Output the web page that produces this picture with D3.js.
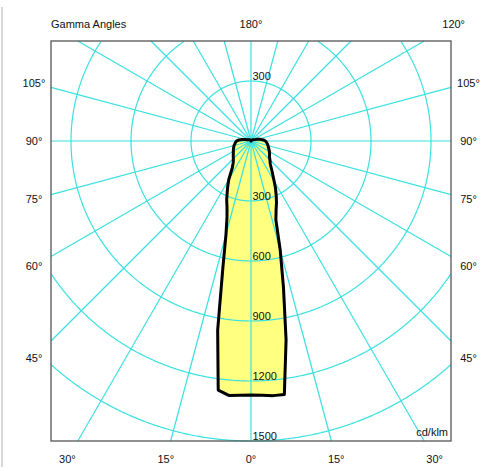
<!DOCTYPE html>
<html>
<head>
<meta charset="utf-8">
<script src="https://cdn.jsdelivr.net/npm/d3@7"></script>
<style>
  html, body { margin: 0; padding: 0; background: #fff; }
  #chart { position: relative; width: 492px; height: 471px; }
  #chart svg { position: absolute; left: 0; top: 0; }
  svg text { font-family: "Liberation Sans", Arial, sans-serif; font-size: 11px; fill: #111; }
</style>
</head>
<body>
<div id="chart"></div>
<script>
// ---- data (cd/klm) ----
const gammaAngles = [0,2.5,5,7.5,10,12.5,15,17.5,20,22.5,25,27.5,30,35,40,45,50,55,60,65,70,75,80,85,90,95,100,105,110,120,135,150,165,180];
const rightPlane = [1270,1272,1278,1278,1010,750,564,414,367,333,298,265,231,183,150,134,120,113,106,99,93,88,83,78,72,62,47,32,20,12,8,5,3,0];
const leftPlane  = [1270,1272,1277,1256,960,650,483,399,351,318,281,251,222,163,138,125,116,108,102,97,92,88,82,78,72,60,45,30,20,12,8,5,3,0];
const ringValues = [300,600,900,1200,1500,1800];
const ringLabels = [300,600,900,1200,1500];
const spokeAngles = d3.range(0, 360, 15);
const sideLabels = [105,90,75,60,45];
const bottomLabels = [30,15,0,15,30];
const bottomSigns = [-1,-1,0,1,1];
const topLabels = ["180°","120°"];
const topAngles = [180,120];
const unitLabel = "cd/klm";
const titleLabel = "Gamma Angles";

// ---- layout ----
const W = 492, H = 471;
const box = {x0: 51, y0: 41, x1: 451, y1: 441};
const cx = 251, cy = 141;
const r = d3.scaleLinear().domain([0, 1500]).range([0, 300]);
const rad = d => d * Math.PI / 180;
const gridColor = "#3ce0e0";

const chart = d3.select("#chart");
const base = chart.append("svg").attr("width", W).attr("height", H);   // fill layer
const top_ = chart.append("svg").attr("width", W).attr("height", H);   // grid + outline + text layer

base.append("line").attr("x1", 2).attr("x2", 2).attr("y1", 7).attr("y2", 467)
  .attr("stroke", "#b0b0b0").attr("stroke-width", 1);

// curve points: right half 180 -> 0, then left half 0 -> 180
const pts = [];
for (let i = gammaAngles.length - 1; i >= 0; i--) pts.push({a: Math.PI - rad(gammaAngles[i]), v: rightPlane[i]});
for (let i = 1; i < gammaAngles.length - 1; i++) pts.push({a: Math.PI + rad(gammaAngles[i]), v: leftPlane[i]});
const radial = d3.lineRadial().angle(d => d.a).radius(d => r(d.v)).curve(d3.curveLinearClosed);

// yellow fill on the bottom layer
base.append("path").attr("transform", `translate(${cx},${cy})`)
  .attr("d", radial(pts)).attr("fill", "#ffff80").attr("stroke", "none");

// grid on the top layer, clipped manually to the frame
const inBox = (a, rr) => {
  const x = cx + Math.sin(a) * rr, y = cy - Math.cos(a) * rr;
  return x >= box.x0 && x <= box.x1 && y >= box.y0 && y <= box.y1;
};
const ringLine = d3.lineRadial().angle(d => d.a).radius(d => d.rr).defined(d => inBox(d.a, d.rr));
const gridG = top_.append("g").attr("transform", `translate(${cx},${cy})`);
ringValues.forEach(v => {
  const rr = r(v);
  const samples = d3.range(0, 360.01, 0.25).map(t => ({a: rad(t), rr}));
  gridG.append("path").attr("d", ringLine(samples))
    .attr("fill", "none").attr("stroke", gridColor).attr("stroke-width", 1.2);
});
spokeAngles.forEach(d => {
  const a = rad(d);
  const sx = Math.sin(a), sy = -Math.cos(a);
  const tx = sx > 1e-9 ? (box.x1 - cx) / sx : sx < -1e-9 ? (box.x0 - cx) / sx : Infinity;
  const ty = sy > 1e-9 ? (box.y1 - cy) / sy : sy < -1e-9 ? (box.y0 - cy) / sy : Infinity;
  const t = Math.min(tx, ty);
  gridG.append("line").attr("x1", 0).attr("y1", 0)
    .attr("x2", sx * t).attr("y2", sy * t)
    .attr("stroke", gridColor).attr("stroke-width", 1.2);
});

// outline
top_.append("path").attr("transform", `translate(${cx},${cy})`)
  .attr("d", radial(pts)).attr("fill", "none")
  .attr("stroke", "#000").attr("stroke-width", 3).attr("stroke-linejoin", "round");

// frame
top_.append("rect").attr("x", box.x0).attr("y", box.y0)
  .attr("width", box.x1 - box.x0).attr("height", box.y1 - box.y0)
  .attr("fill", "none").attr("stroke", "#555").attr("stroke-width", 1.3);

// ring labels along vertical axis
const lbl = top_.append("g");
ringLabels.forEach(v => {
  [1, -1].forEach(s => {
    const y = cy + s * r(v) - 1;
    if (y > box.y0 + 10 && y < box.y1 + 1) {
      lbl.append("text").attr("x", cx + 1.5).attr("y", y).text(v);
    }
  });
});

// side gamma labels
sideLabels.forEach(a => {
  const y = cy + 217 / Math.tan(rad(a));
  lbl.append("text").attr("x", 34).attr("y", y).attr("dy", "0.35em").attr("text-anchor", "middle").text(a + "°");
  lbl.append("text").attr("x", 468.5).attr("y", y).attr("dy", "0.35em").attr("text-anchor", "middle").text(a + "°");
});
// bottom labels
bottomLabels.forEach((a, i) => {
  const x = cx + bottomSigns[i] * 318 * Math.tan(rad(a));
  lbl.append("text").attr("x", x).attr("y", 459.5).attr("dy", "0.35em").attr("text-anchor", "middle").text(a + "°");
});
// top labels
topAngles.forEach((a, i) => {
  const x = cx + 117 * Math.tan(rad(180 - a));
  lbl.append("text").attr("x", x).attr("y", 24).attr("dy", "0.35em").attr("text-anchor", "middle").text(topLabels[i]);
});
lbl.append("text").attr("x", box.x0).attr("y", 24).attr("dy", "0.35em").text(titleLabel);
lbl.append("text").attr("x", box.x1 - 3).attr("y", 436).attr("text-anchor", "end").text(unitLabel);
</script>
</body>
</html>
